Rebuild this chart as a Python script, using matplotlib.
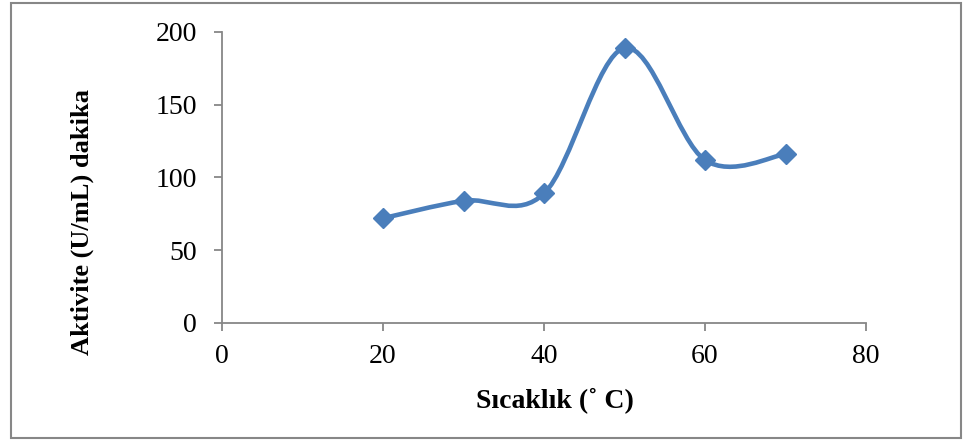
import numpy as np
import matplotlib
matplotlib.use("Agg")
import matplotlib.pyplot as plt
from matplotlib.path import Path
from matplotlib.patches import PathPatch, Rectangle

# data
temp = [20, 30, 40, 50, 60, 70]
activity = [72, 84, 89, 189, 112, 116]
x_ticks = [0, 20, 40, 60, 80]
y_ticks = [0, 50, 100, 150, 200]

BLUE = "#4A7EBB"
GREY = "#878787"

plt.rcParams["font.family"] = ["Liberation Serif", "DejaVu Serif"]


def smooth_path(xs, ys):
    """Excel-style smoothed line: cubic Bezier segments through every point."""
    pts = np.column_stack([xs, ys]).astype(float)
    n = len(pts)
    verts = [pts[0]]
    codes = [Path.MOVETO]
    for i in range(n - 1):
        p0 = pts[i - 1] if i > 0 else pts[i]
        p1, p2 = pts[i], pts[i + 1]
        p3 = pts[i + 2] if i + 2 < n else pts[i + 1]
        c1 = p1 + (p2 - p0) / 6.0
        c2 = p2 - (p3 - p1) / 6.0
        verts += [c1, c2, p2]
        codes += [Path.CURVE4] * 3
    return Path(verts, codes)


fig = plt.figure(figsize=(9.72, 4.43), dpi=100)
ax = fig.add_axes([0.2284, 0.2709, 0.891 - 0.2284, 0.9278 - 0.2709])

ax.add_patch(PathPatch(smooth_path(temp, activity), facecolor="none",
                       edgecolor=BLUE, lw=3.3, capstyle="round", zorder=3))
ax.plot(temp, activity, ls="none", marker="D", markersize=10,
        color=BLUE, zorder=4)

ax.set_xlim(0, 80)
ax.set_ylim(0, 200)
ax.set_xticks(x_ticks)
ax.set_yticks(y_ticks)
for s in ("top", "right"):
    ax.spines[s].set_visible(False)
for s in ("left", "bottom"):
    ax.spines[s].set_color(GREY)
    ax.spines[s].set_linewidth(1.3)
ax.tick_params(axis="both", colors=GREY, labelcolor="black", labelsize=20,
               length=6, width=1.3, direction="out")
ax.tick_params(axis="x", pad=9)
ax.tick_params(axis="y", pad=12)

ax.set_xlabel("Sıcaklık (˚ C)", fontsize=20, fontweight="bold")
ax.set_ylabel("Aktivite (U/mL) dakika", fontsize=19, fontweight="bold")
ax.xaxis.set_label_coords(0.517, -0.265)
ax.yaxis.set_label_coords(-0.217, 0.347)
ax.yaxis.label.set_verticalalignment("center")
ax.xaxis.label.set_verticalalignment("center")

# outer frame like the exported chart area
fig.patches.append(Rectangle((0.011, 0.011), 0.978, 0.982, transform=fig.transFigure,
                             facecolor="none", edgecolor=GREY, lw=1.5))

fig.savefig("out.png", dpi=100)
